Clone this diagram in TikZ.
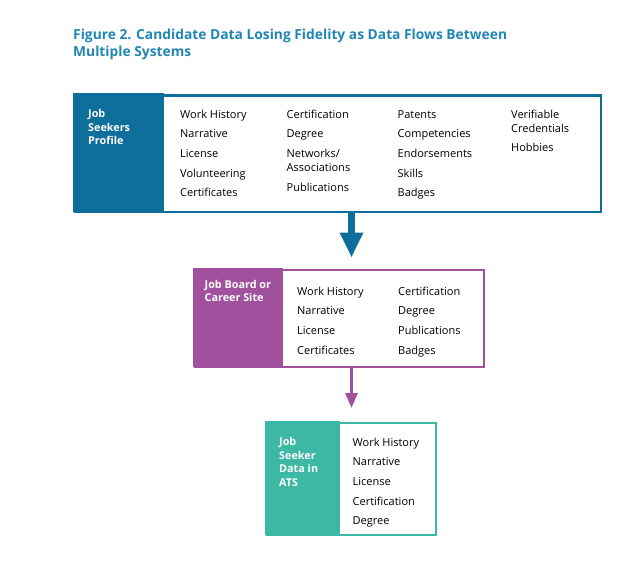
\documentclass[tikz,border=0pt]{standalone}
\usepackage{fontspec}
\setmainfont{Open Sans}
\usetikzlibrary{positioning, arrows.meta}

\definecolor{titleblue}{HTML}{2286B4}
\definecolor{profileblue}{HTML}{0E6E9C}
\definecolor{boardpurple}{HTML}{A0509C}
\definecolor{atsteal}{HTML}{3CB8A5}

\begin{document}
\begin{tikzpicture}[x=1pt, y=-1pt,
        % Define node styles (text nodes sit on the baseline of their last line)
        frame/.style={rectangle, draw, fill=white, anchor=north west, inner sep=0pt},
        panel/.style={rectangle, anchor=north west, inner sep=0pt},
        tag/.style={anchor=base west, align=left, text=white, inner sep=0pt,
                    font=\fontsize{10.8}{13.8}\selectfont\bfseries},
        items/.style={anchor=base west, align=left, inner sep=0pt,
                      font=\fontsize{11}{19.7}\selectfont},
        title/.style={anchor=base west, align=left, inner sep=0pt, text=titleblue,
                      font=\fontsize{13.8}{17.4}\selectfont\bfseries}
    ]
    \useasboundingbox (0,0) rectangle (640,566);

    % Title
    \node[title] (caption) at (73,56.9) {Figure 2. Candidate Data Losing Fidelity as Data Flows Between\\Multiple Systems};

    % Job seekers profile
    \node[frame, draw=profileblue, line width=2.6pt, minimum width=525.4pt, minimum height=116.4pt] (profile) at (74.3,94.3) {};
    \node[panel, fill=profileblue, minimum width=91pt, minimum height=119pt] (profile-panel) at (73,93) {};
    \node[tag] (profile-tag) at (88,144.9) {Job\\Seekers\\Profile};
    \node[items] (profile-c1) at (180,196.8) {Work History\\Narrative\\License\\Volunteering\\Certificates};
    \node[items] (profile-c2) at (286.5,191.1) {Certification\\Degree\\Networks/\\[-5.7pt]Associations\\Publications};
    \node[items] (profile-c3) at (397.5,196.8) {Patents\\Competencies\\Endorsements\\Skills\\Badges};
    \node[items] (profile-c4) at (511,151.7) {Verifiable\\[-5.7pt]Credentials\\Hobbies};

    % Job board or career site
    \node[frame, draw=boardpurple, line width=2pt, minimum width=289pt, minimum height=97pt] (board) at (194,269) {};
    \node[panel, fill=boardpurple, minimum width=90pt, minimum height=99pt] (board-panel) at (193,268) {};
    \node[tag] (board-tag) at (204.5,301.8) {Job Board or\\Career Site};
    \node[items] (board-c1) at (297,354.1) {Work History\\Narrative\\License\\Certificates};
    \node[items] (board-c2) at (398,354.1) {Certification\\Degree\\Publications\\Badges};

    % Job seeker data in ATS
    \node[frame, draw=atsteal, line width=2pt, minimum width=169pt, minimum height=112pt] (ats) at (266,422) {};
    \node[panel, fill=atsteal, minimum width=75pt, minimum height=114pt] (ats-panel) at (265,421) {};
    \node[tag] (ats-tag) at (279,486.7) {Job\\Seeker\\Data in\\ATS};
    \node[items] (ats-c1) at (352.5,524.8) {Work History\\Narrative\\License\\Certification\\Degree};

    % Flows between systems
    \draw[profileblue, line width=7pt, -{Triangle[length=25pt, width=22pt]}]
        (profile.south -| ats.north) -- ([yshift=11.5pt]board.north -| ats.north);
    \draw[boardpurple, line width=3pt, -{Triangle[length=15pt, width=12pt]}]
        (board.south -| ats.north) -- ([yshift=14pt]ats.north);

\end{tikzpicture}
\end{document}
